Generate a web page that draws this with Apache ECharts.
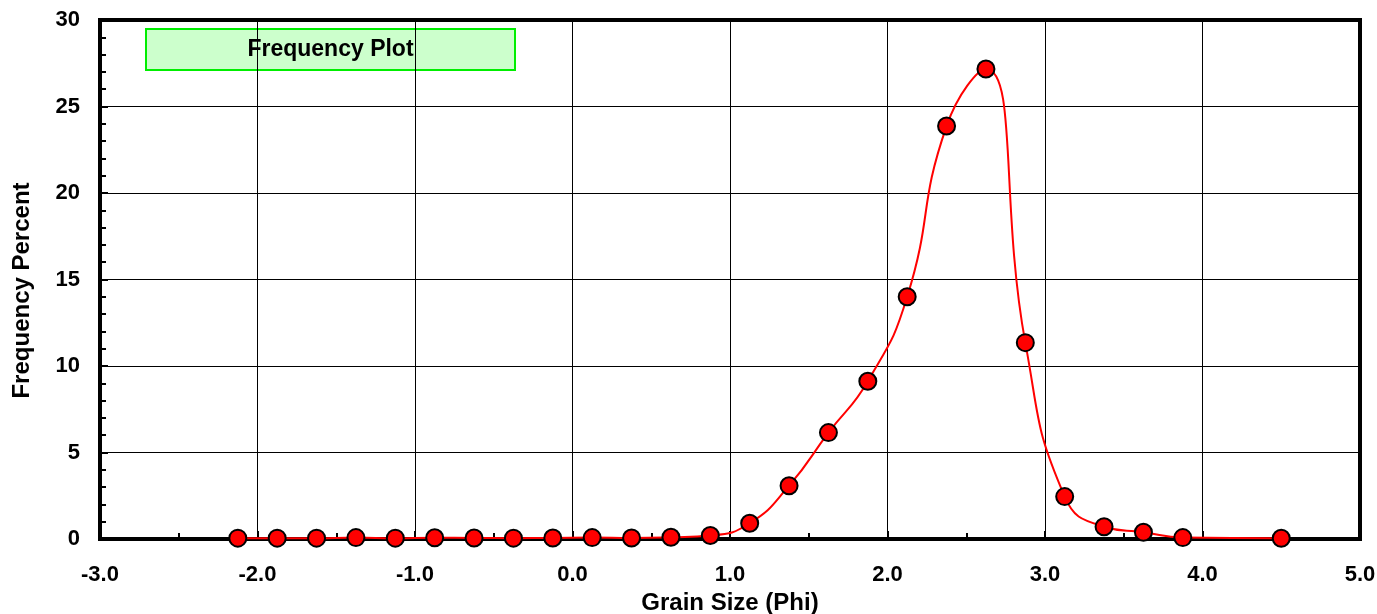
<!DOCTYPE html>
<html>
<head>
<meta charset="utf-8">
<script src="https://cdn.jsdelivr.net/npm/echarts@6/dist/echarts.min.js"></script>
<style>
html,body{margin:0;padding:0;background:#fff;width:100%;height:100%;overflow:hidden;}
#c{width:1377px;height:614px;}
</style>
</head>
<body>
<div id="c"></div>
<script>
var phi = [-2.125,-1.875,-1.625,-1.375,-1.125,-0.875,-0.625,-0.375,-0.125,0.125,0.375,0.625,0.875,1.125,1.375,1.625,1.875,2.125,2.375,2.625,2.875,3.125,3.375,3.625,3.875,4.5];
var freq = [0.05,0.05,0.05,0.08,0.05,0.07,0.06,0.05,0.06,0.08,0.06,0.1,0.2,0.91,3.08,6.15,9.12,14.0,23.87,27.17,11.35,2.45,0.71,0.39,0.08,0.04];
var xTicks = [-3,-2,-1,0,1,2,3,4,5];
var yTicks = [0,5,10,15,20,25,30];
var titleText = 'Frequency Plot';
var xName = 'Grain Size (Phi)';
var yName = 'Frequency Percent';

var font = 'Liberation Sans, Arial, sans-serif';
var data = phi.map(function(p,i){return [p,freq[i]];});
var el = document.getElementById('c');
var chart = echarts.init(el, null, {width:1377, height:614});
chart.setOption({
  animation:false,
  backgroundColor:'#fff',
  grid:{left:100,right:17,top:20,bottom:75,show:true,borderColor:'#000',borderWidth:4,containLabel:false,outerBoundsMode:'none'},
  xAxis:{
    type:'value',min:xTicks[0],max:xTicks[xTicks.length-1],interval:1,
    axisLine:{show:true,onZero:false,lineStyle:{color:'#000',width:4}},
    axisTick:{show:true,inside:true,length:8,lineStyle:{color:'#000',width:2}},
    minorTick:{show:true,splitNumber:2,length:6,lineStyle:{color:'#000',width:2}},
    splitLine:{show:true,lineStyle:{color:'#000',width:1}},
    axisLabel:{color:'#000',fontWeight:'bold',fontSize:22,fontFamily:font,margin:25,
      formatter:function(v){return v.toFixed(1);}},
    name:xName,nameLocation:'middle',nameGap:52,
    nameTextStyle:{color:'#000',fontWeight:'bold',fontSize:24,fontFamily:font}
  },
  yAxis:{
    type:'value',min:yTicks[0],max:yTicks[yTicks.length-1],interval:5,
    axisLine:{show:true,onZero:false,lineStyle:{color:'#000',width:4}},
    axisTick:{show:true,inside:true,length:8,lineStyle:{color:'#000',width:2}},
    minorTick:{show:true,splitNumber:5,length:6,lineStyle:{color:'#000',width:2}},
    splitLine:{show:true,lineStyle:{color:'#000',width:1}},
    axisLabel:{color:'#000',fontWeight:'bold',fontSize:22,fontFamily:font,margin:20},
    name:yName,nameLocation:'middle',nameGap:66,
    nameTextStyle:{color:'#000',fontWeight:'bold',fontSize:24,fontFamily:font,padding:[0,22,0,0]}
  },
  graphic:[{
    type:'group',left:145,top:28,
    children:[
      {type:'rect',shape:{x:0,y:0,width:369,height:41},style:{fill:'#ccffcc',stroke:'#00ee00',lineWidth:2}},
      {type:'text',x:184.5,y:21,style:{text:titleText,fill:'#000',font:'bold 23px '+font,align:'center',verticalAlign:'middle'}}
    ]
  }],
  series:[{
    type:'line',data:data,smooth:0.5,
    symbol:'circle',symbolSize:17,
    lineStyle:{color:'#ff0000',width:2},
    itemStyle:{color:'#ff0000',borderColor:'#000',borderWidth:2},
    z:5
  }]
});
</script>
</body>
</html>
